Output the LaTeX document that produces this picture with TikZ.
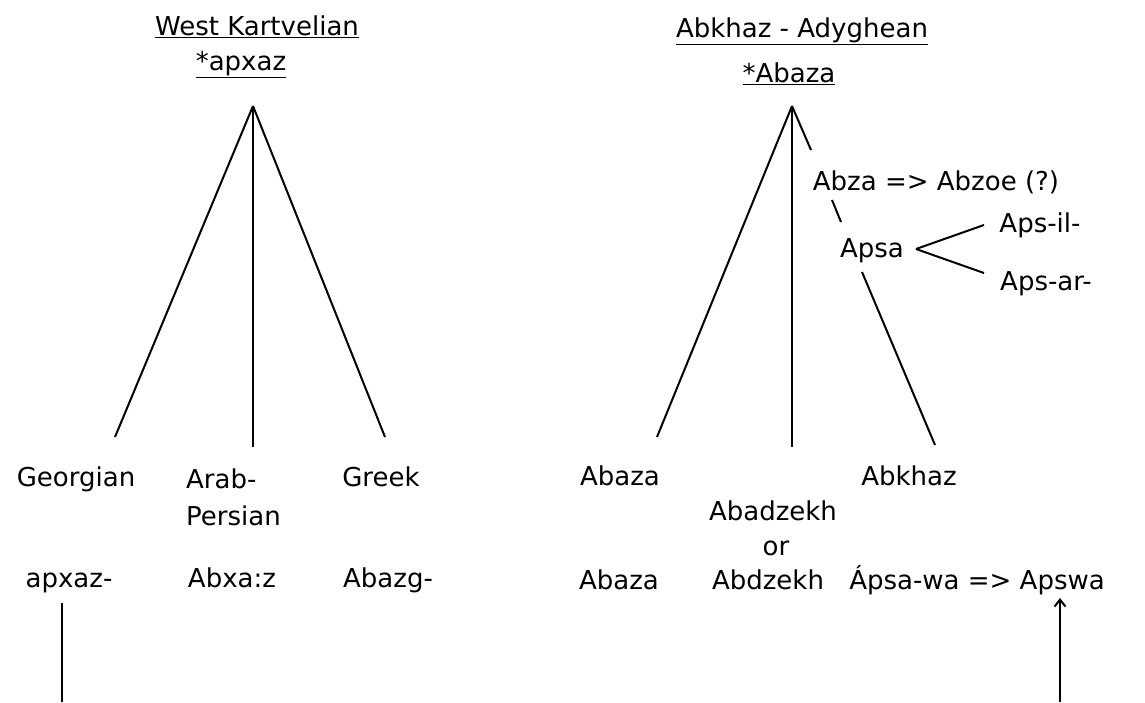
\documentclass[tikz,border=0pt]{standalone}
\usepackage{fontspec}
\setmainfont{DejaVu Sans}
\usetikzlibrary{arrows.meta}
\tikzset{
  lang/.style={anchor=base,inner sep=0pt,font=\fontsize{26}{30}\selectfont},
  branch/.style={line width=2pt}
}
\begin{document}
\begin{tikzpicture}[x=1pt,y=-1pt,>={Straight Barb[length=7pt,width=11pt]}]
\useasboundingbox (0,0) rectangle (1145,702);
% left tree
\node[lang] (WK) at (257,35) {\underline{West Kartvelian}};
\node[lang] (apxaz) at (241,70) {\underline{*apxaz}};
\coordinate (L0) at (253,106);
\coordinate (L1) at (115,437);
\coordinate (L2) at (253,447);
\coordinate (L3) at (385,437);
\draw[branch] (L0) -- (L1);
\draw[branch] (L0) -- (L2);
\draw[branch] (L0) -- (L3);
\node[lang] (geo) at (76,486) {Georgian};
\node[lang,anchor=base west] (arab) at (186,488) {Arab-};
\node[lang,anchor=base west] (pers) at (186,525) {Persian};
\node[lang] (greek) at (381,486) {Greek};
\node[lang] (geoW) at (69,587) {apxaz-};
\node[lang] (arabW) at (232,587) {Abxa:z};
\node[lang] (greekW) at (388,587) {Abazg-};
\coordinate (Lb1) at (62,603);
\coordinate (Lb2) at (62,702);
\draw[branch] (Lb1) -- (Lb2);
% right tree
\node[lang] (AA) at (802,37) {\underline{Abkhaz - Adyghean}};
\node[lang] (abaza) at (789,82) {\underline{*Abaza}};
\coordinate (R0) at (792,106);
\coordinate (R1) at (657,437);
\coordinate (R2) at (792,447);
\draw[branch] (R0) -- (R1);
\draw[branch] (R0) -- (R2);
\node[lang] (abza) at (936,190) {Abza => Abzoe (?)};
\node[lang] (apsa) at (872,257) {Apsa};
\node[lang] (apsil) at (1040,232) {Aps-il-};
\node[lang] (apsar) at (1046,290) {Aps-ar-};
\coordinate (Ra) at (811,150);
\coordinate (Rb) at (832,200);
\coordinate (Rc) at (841,222);
\coordinate (Rd) at (862,272);
\coordinate (R3) at (935,445);
\draw[branch] (R0) -- (Ra);
\draw[branch] (Rb) -- (Rc);
\draw[branch] (Rd) -- (R3);
\coordinate (P0) at (916,249);
\coordinate (P1) at (984,225);
\coordinate (P2) at (984,273);
\draw[branch] (P0) -- (P1);
\draw[branch] (P0) -- (P2);
\node[lang] (abazaR) at (620,485) {Abaza};
\node[lang] (abkh) at (909,485) {Abkhaz};
\node[lang] (abadz) at (773,520) {Abadzekh};
\node[lang] (or) at (776,555) {or};
\node[lang] (abazaW) at (619,589) {Abaza};
\node[lang] (abdz) at (768,589) {Abdzekh};
\node[lang] (apswa) at (977,589) {Ápsa-wa => Apswa};
\coordinate (Ab1) at (1060,702);
\coordinate (Ab2) at (1060,598);
\draw[branch,->] (Ab1) -- (Ab2);
\end{tikzpicture}
\end{document}
